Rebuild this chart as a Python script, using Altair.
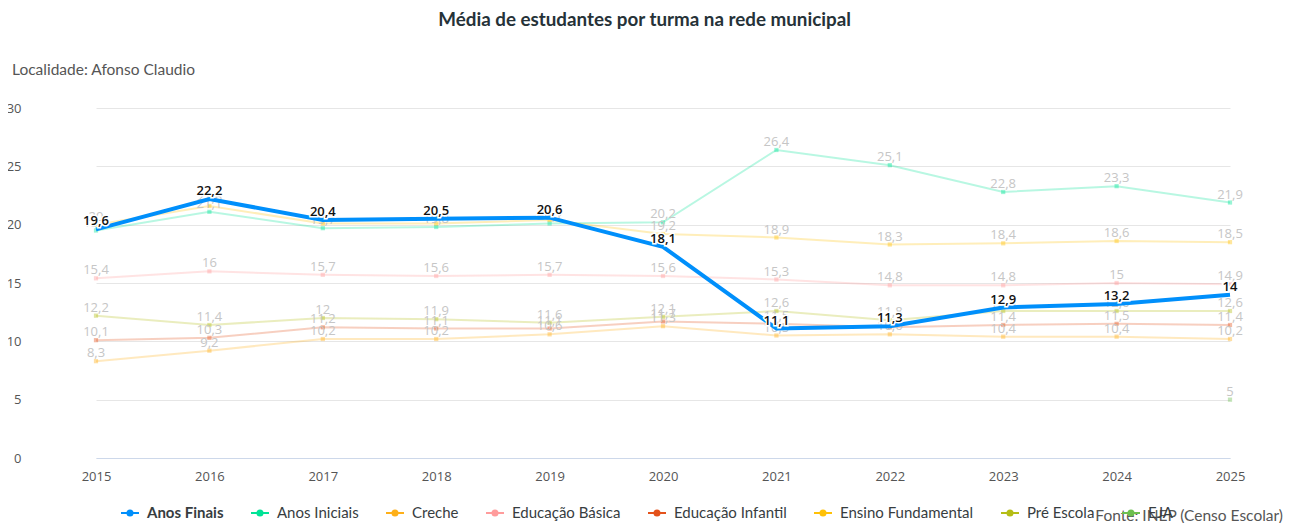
import altair as alt
import pandas as pd

years = ["2015", "2016", "2017", "2018", "2019", "2020", "2021", "2022", "2023", "2024", "2025"]

anos_finais = [19.6, 22.2, 20.4, 20.5, 20.6, 18.1, 11.1, 11.3, 12.9, 13.2, 14.0]
anos_iniciais = [19.5, 21.1, 19.7, 19.8, 20.1, 20.2, 26.4, 25.1, 22.8, 23.3, 21.9]
creche = [8.3, 9.2, 10.2, 10.2, 10.6, 11.3, 10.5, 10.6, 10.4, 10.4, 10.2]
educacao_basica = [15.4, 16.0, 15.7, 15.6, 15.7, 15.6, 15.3, 14.8, 14.8, 15.0, 14.9]
educacao_infantil = [10.1, 10.3, 11.2, 11.1, 11.1, 11.7, 11.5, 11.2, 11.4, 11.5, 11.4]
ensino_fundamental = [20.0, 21.6, 20.1, 20.1, 20.4, 19.2, 18.9, 18.3, 18.4, 18.6, 18.5]
pre_escola = [12.2, 11.4, 12.0, 11.9, 11.6, 12.1, 12.6, 11.8, 12.6, 12.6, 12.6]
eja = [None, None, None, None, None, None, None, None, None, None, 5.0]

series_names = ["Anos Finais", "Anos Iniciais", "Creche", "Educação Básica",
                "Educação Infantil", "Ensino Fundamental", "Pré Escola", "EJA"]
series_values = [anos_finais, anos_iniciais, creche, educacao_basica,
                 educacao_infantil, ensino_fundamental, pre_escola, eja]
series_colors = ["#008FFB", "#00E396", "#FEB019", "#FF9C9C",
                 "#E4521B", "#FFC107", "#B5BD16", "#6CBF50"]

title_text = "Média de estudantes por turma na rede municipal"
locality_text = "Localidade: Afonso Claudio"
source_text = "Fonte: INEP (Censo Escolar)"

rows = []
for name, vals in zip(series_names, series_values):
    for yr, v in zip(years, vals):
        if v is not None:
            rows.append({"serie": name, "ano": yr, "valor": v})
df = pd.DataFrame(rows)

W, H = 1240, 350
FOCUS = "Anos Finais"

x_enc = alt.X(
    "ano:O",
    sort=years,
    scale=alt.Scale(type="point", range=[57, 1191], padding=0),
    axis=alt.Axis(title=None, labelAngle=0, ticks=False, grid=False,
                  domainColor="#cdd8ea", domainWidth=1, labelPadding=12,
                  labelFont="Open Sans", labelFontSize=13, labelColor="#555555"),
)
y_enc = alt.Y(
    "valor:Q",
    scale=alt.Scale(domain=[0, 30], nice=False, zero=True),
    axis=alt.Axis(title=None, values=[0, 5, 10, 15, 20, 25, 30], ticks=False,
                  domain=False, labelAlign="right", labelPadding=18,
                  labelFont="Open Sans", labelFontSize=13, labelColor="#555555",
                  gridColor="#e6e6e6", gridWidth=1),
)
color_enc = alt.Color(
    "serie:N",
    scale=alt.Scale(domain=series_names, range=series_colors),
    legend=alt.Legend(
        title=None, orient="none", legendX=81, legendY=395, direction="horizontal",
        columns=8, symbolType="M-1,0L1,0M-0.28,0a0.28,0.28 0 1,0 0.56,0a0.28,0.28 0 1,0 -0.56,0",
        symbolSize=324, symbolStrokeWidth=2, symbolOpacity=1, labelOffset=7,
        columnPadding=23, labelFont="Lato", labelFontSize=15, labelColor="#373d3f",
        labelFontWeight=alt.ExprRef("datum.label === 'Anos Finais' ? 'bold' : 'normal'"),
        labelLimit=300,
    ),
)

base = alt.Chart(df).transform_calculate(
    rotulo="replace(toString(datum.valor), '.', ',')"
)

faded = base.transform_filter(alt.datum.serie != FOCUS)
focus = base.transform_filter(alt.datum.serie == FOCUS)

faded_lines = faded.mark_line(strokeWidth=2, opacity=0.28).encode(
    x=x_enc, y=y_enc, color=color_enc, detail="serie:N"
)
faded_points = faded.mark_point(shape="square", filled=True, size=18, opacity=0.4).encode(
    x=x_enc, y=y_enc,
    color=alt.Color("serie:N", scale=alt.Scale(domain=series_names, range=series_colors), legend=None)
)
faded_labels = faded.mark_text(
    font="Open Sans", fontSize=13, color="#c6c6c6", baseline="alphabetic", dy=-4
).encode(x=x_enc, y=y_enc, text="rotulo:N")

focus_line = focus.mark_line(strokeWidth=4).encode(
    x=x_enc, y=y_enc, color=color_enc
)
focus_halo = focus.mark_text(
    font="Open Sans", fontSize=13, fontWeight=600, color="white", stroke="white",
    strokeWidth=3, baseline="alphabetic", dy=-4
).encode(x=x_enc, y=y_enc, text="rotulo:N")
focus_labels = focus.mark_text(
    font="Open Sans", fontSize=13, fontWeight=600, color="#111111", baseline="alphabetic", dy=-4
).encode(x=x_enc, y=y_enc, text="rotulo:N")

locality = alt.Chart(pd.DataFrame({"t": [locality_text]})).mark_text(
    font="Lato", fontSize=15.5, color="#555555", align="left", baseline="middle"
).encode(x=alt.value(-27), y=alt.value(-38), text="t:N")

source = alt.Chart(pd.DataFrame({"t": [source_text]})).mark_text(
    font="Lato", fontSize=15.5, color="#555555", align="right", baseline="alphabetic"
).encode(x=alt.value(1244), y=alt.value(413), text="t:N")

chart = alt.layer(
    faded_lines, faded_points, faded_labels, focus_line, focus_halo, focus_labels,
    locality, source
).properties(
    width=W, height=H,
    title=alt.TitleParams(title_text, font="Lato", fontSize=18.8, fontWeight="bold",
                          color="#263238", anchor="middle", frame="bounds", offset=33),
    autosize="none",
    padding={"left": 31, "top": 100, "right": 4, "bottom": 65},
).configure_view(stroke=None)

chart.save("out.html", embed_options={"renderer": "svg", "actions": False})
